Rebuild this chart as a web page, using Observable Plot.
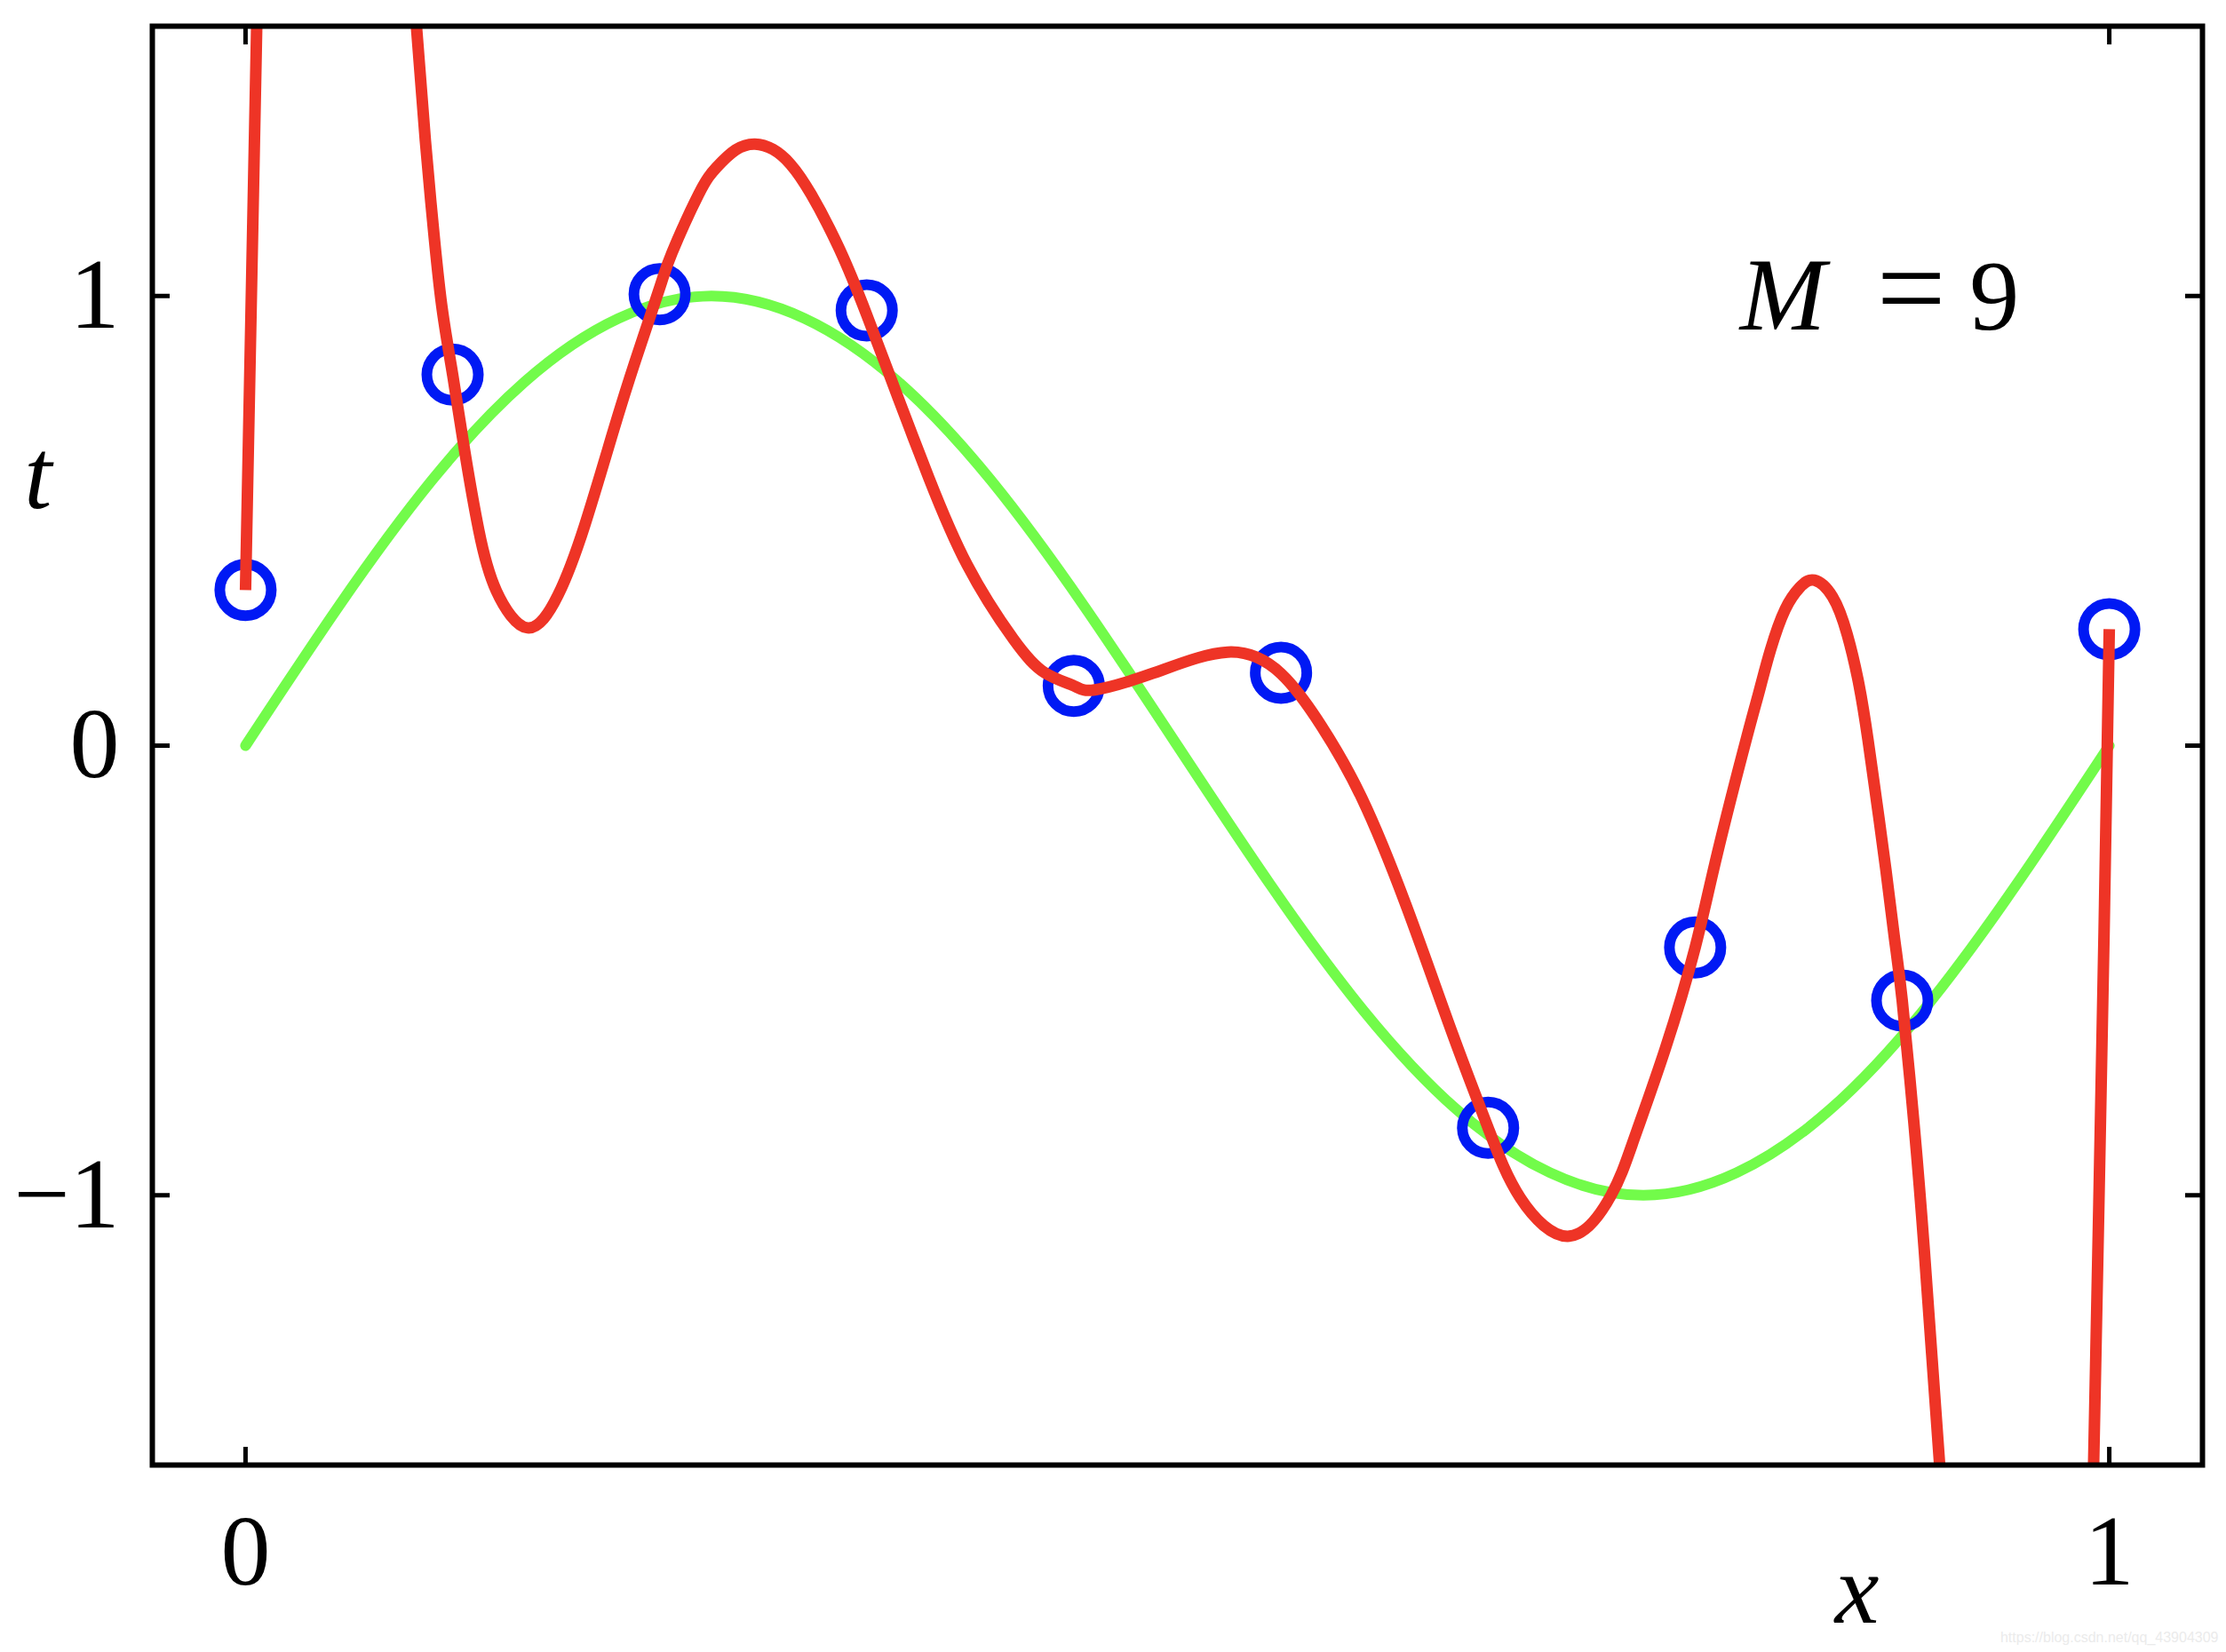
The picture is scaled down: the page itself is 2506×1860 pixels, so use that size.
<!DOCTYPE html>
<html>
<head>
<meta charset="utf-8">
<script src="https://cdn.jsdelivr.net/npm/d3@7"></script>
<script src="https://cdn.jsdelivr.net/npm/@observablehq/plot@0.6"></script>
<style>
  html, body { margin: 0; padding: 0; background: #ffffff; }
  #chart svg { display: block; }
</style>
</head>
<body>
<div id="chart"></div>
<script>
// ---- data ----
const pointX = [0, 0.1111, 0.2222, 0.3333, 0.4444, 0.5556, 0.6667, 0.7778, 0.8889, 1];
const pointT = [0.346, 0.825, 1.004, 0.968, 0.133, 0.162, -0.850, -0.449, -0.567, 0.259];

const greenX = [0, 0.05, 0.10, 0.15, 0.20, 0.25, 0.30, 0.35, 0.40, 0.45, 0.50,
                0.55, 0.60, 0.65, 0.70, 0.75, 0.80, 0.85, 0.90, 0.95, 1.00];
const greenT = [0, 0.31, 0.59, 0.81, 0.95, 1.00, 0.95, 0.81, 0.59, 0.31, 0,
                -0.31, -0.59, -0.81, -0.95, -1.00, -0.95, -0.81, -0.59, -0.31, 0];

// M = 9 fit (null separates pieces that leave the frame)
const redX = [0, 0.0029, 0.006, null,
  0.0917, 0.0965, 0.1005, 0.1052, 0.1111, 0.1171, 0.1251, 0.1346, 0.1513, 0.1677,
  0.1820, 0.1970, 0.2090, 0.2222, 0.2288, 0.2431, 0.2527, 0.2630, 0.2733, 0.2830,
  0.2924, 0.3035, 0.3186, 0.3333, 0.3503, 0.3667, 0.3872, 0.4120, 0.4289, 0.4444,
  0.4557, 0.4870, 0.5270, 0.5556, 0.5772, 0.5990, 0.6234, 0.6477, 0.6667, 0.6840,
  0.7103, 0.7327, 0.7450, 0.7617, 0.7778, 0.7897, 0.8056, 0.8118, 0.8181, 0.8261,
  0.8340, 0.8417, 0.8515, 0.8594, 0.8658, 0.8705, 0.8753, 0.8801, 0.8848, 0.8889,
  0.8952, 0.9007, 0.9090, null,
  0.9916, 0.9944, 0.9972, 1];
const redT = [0.346, 0.953, 1.6, null,
  1.6, 1.345, 1.163, 0.981, 0.826, 0.668, 0.480, 0.344, 0.262, 0.335,
  0.490, 0.695, 0.854, 1.018, 1.096, 1.226, 1.286, 1.325, 1.338, 1.326,
  1.293, 1.226, 1.105, 0.958, 0.772, 0.595, 0.402, 0.237, 0.162, 0.133,
  0.124, 0.161, 0.208, 0.160, 0.044, -0.117, -0.363, -0.642, -0.850, -1.006,
  -1.091, -1.000, -0.875, -0.675, -0.449, -0.240, 0.020, 0.115, 0.211, 0.303,
  0.352, 0.368, 0.331, 0.247, 0.1335, 0.014, -0.128, -0.275, -0.430, -0.567,
  -0.840, -1.120, -1.6, null,
  -1.6, -1.022, -0.417, 0.259];

const xTicks = [0, 1];
const yTicks = [-1, 0, 1];

// ---- tables for the library ----
const points = pointX.map((x, i) => ({x, t: pointT[i]}));
const green = greenX.map((x, i) => ({x, t: greenT[i]}));
const red = redX.map((x, i) => ({x, t: redT[i]}));

const RED = "#ee3426";
const GREEN = "#72fb4a";
const BLUE = "#0019f4";
const SERIF = "'Liberation Serif', 'DejaVu Serif', serif";

const chart = Plot.plot({
  width: 2506,
  height: 1860,
  marginLeft: 171,
  marginRight: 27,
  marginTop: 29,
  marginBottom: 211,
  x: {domain: [-0.05, 1.05]},
  y: {domain: [-1.6, 1.6]},
  style: {fontFamily: SERIF, background: "#ffffff", color: "#000000", overflow: "visible"},
  marks: [
    Plot.line(green, {x: "x", y: "t", stroke: GREEN, strokeWidth: 12, curve: "natural", clip: true}),
    Plot.dot(points, {x: "x", y: "t", r: 29, stroke: BLUE, strokeWidth: 12, fill: "none"}),
    Plot.line(red, {x: "x", y: "t", stroke: RED, strokeWidth: 13, curve: "natural",
                    strokeLinecap: "butt", strokeLinejoin: "round", clip: true}),
    Plot.frame({stroke: "#000", strokeWidth: 6}),
    // inward ticks on all four sides
    Plot.axisY(yTicks, {anchor: "left", tickSize: 20, dx: 20, strokeWidth: 5, fill: "none", label: null}),
    Plot.axisY(yTicks, {anchor: "right", tickSize: 20, dx: -20, strokeWidth: 5, fill: "none", label: null}),
    Plot.axisX(xTicks, {anchor: "top", tickSize: 20, dy: 20, strokeWidth: 5, fill: "none", label: null}),
    Plot.axisX(xTicks, {anchor: "bottom", tickSize: 20, dy: -20, strokeWidth: 5, fill: "none", label: null}),
    // tick labels
    Plot.axisY(yTicks, {anchor: "left", tickSize: 0, tickPadding: 37, fontSize: 112, label: null, tickFormat: "d"}),
    Plot.axisX(xTicks, {anchor: "bottom", tickSize: 0, tickPadding: 55, fontSize: 112, label: null, tickFormat: "d"}),
    // axis titles
    Plot.text(["t"], {x: -0.1113, y: 0.529, text: d => d, fontStyle: "italic", fontSize: 112,
                      textAnchor: "middle", lineAnchor: "bottom", fontFamily: SERIF}),
    Plot.text(["x"], {x: 0.8647, y: -1.950, text: d => d, fontStyle: "italic", fontSize: 112,
                      textAnchor: "middle", lineAnchor: "bottom", fontFamily: SERIF}),
    // annotation M = 9
    Plot.text(["M"], {x: 0.8018, y: 0.925, text: d => d, fontStyle: "italic", fontSize: 116,
                      textAnchor: "start", lineAnchor: "bottom", fontFamily: SERIF}),
    Plot.text(["="], {x: 0.8938, y: 0.925, text: d => d, fontSize: 138,
                      textAnchor: "middle", lineAnchor: "bottom", fontFamily: SERIF}),
    Plot.text(["9"], {x: 0.9383, y: 0.925, text: d => d, fontSize: 112,
                      textAnchor: "middle", lineAnchor: "bottom", fontFamily: SERIF}),
    // faint source watermark
    Plot.text(["https://blog.csdn.net/qq_43904309"], {frameAnchor: "bottom-right", text: d => d,
                      dx: 18, dy: 199, textAnchor: "end", lineAnchor: "bottom", fontSize: 16,
                      fill: "#ebebeb", fontFamily: "'Liberation Sans', sans-serif"})
  ]
});

document.getElementById("chart").appendChild(chart);
</script>
</body>
</html>
